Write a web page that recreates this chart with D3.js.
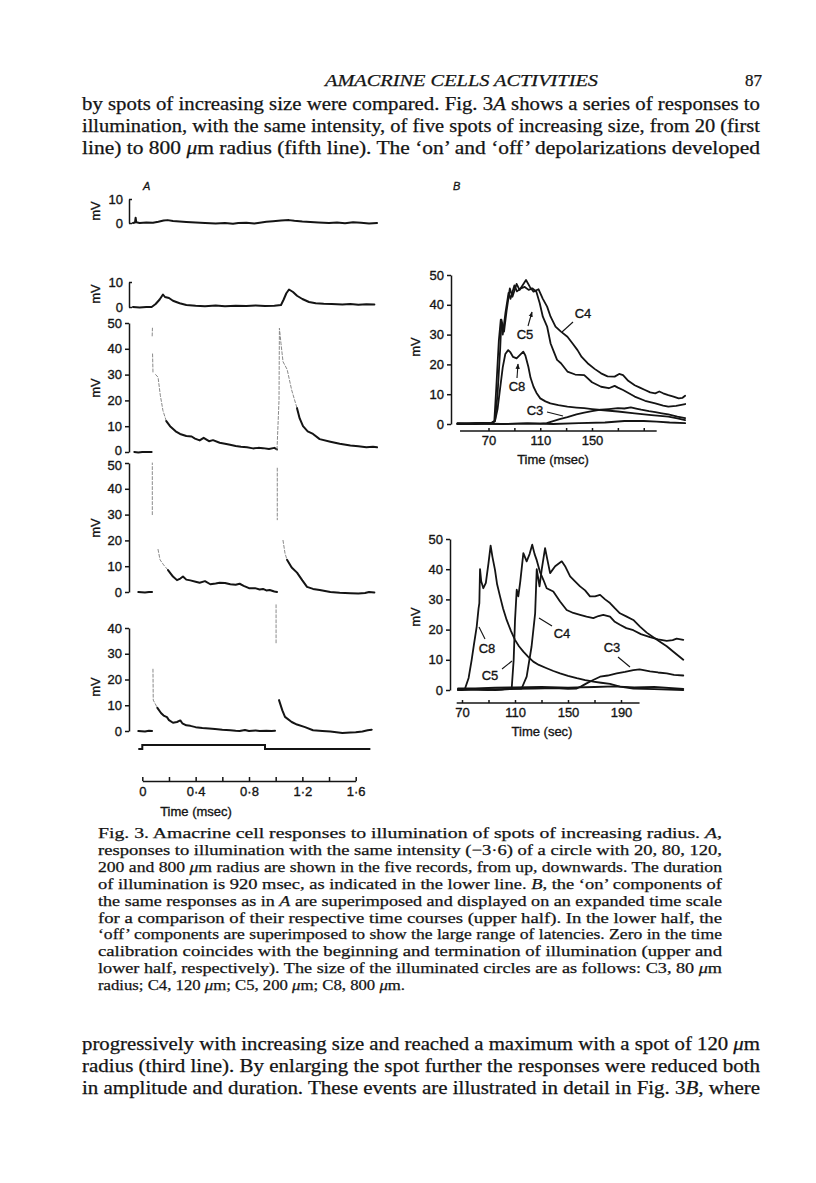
<!DOCTYPE html>
<html><head><meta charset="utf-8">
<script src="https://cdn.jsdelivr.net/npm/d3@7"></script>
<style>body{margin:0;background:#fff}svg{display:block}</style>
</head><body>
<svg id="c" width="816" height="1183"></svg>
<script>
// ---------------- DATA ----------------
// Panel A: time (s), potential (mV); 3rd value: 1 = faint fast segment, 2 = invisible segment
const traceA20 = [[-0.07,0],[-0.055,0.2],[-0.05,2.2],[-0.045,0.3],[-0.02,0],[0.03,0.2],[0.08,0.1],[0.12,0.5],[0.16,1],[0.19,1.2],[0.23,0.8],[0.28,0.6],[0.33,0.4],[0.4,0.2],[0.47,0],[0.55,-0.2],[0.62,0],[0.68,-0.3],[0.72,0],[0.78,0.1],[0.84,-0.2],[0.88,0.1],[0.93,0.5],[0.98,0.7],[1.04,1],[1.1,1.2],[1.14,0.9],[1.2,0.6],[1.26,0.4],[1.32,0.2],[1.4,0],[1.46,0.2],[1.52,-0.1],[1.58,0.3],[1.64,0.1],[1.7,-0.2],[1.76,0]];
const traceA80 = [[-0.07,0],[-0.02,-0.2],[0.03,0],[0.07,0],[0.1,1.2],[0.13,3],[0.155,5],[0.17,4],[0.2,3.6],[0.23,2.5],[0.28,1.5],[0.33,0.8],[0.4,0.5],[0.47,0.3],[0.55,0.6],[0.62,0.3],[0.7,0.5],[0.78,0.4],[0.85,0.6],[0.92,0.4],[0.99,0.5],[1.04,0.8],[1.06,3],[1.08,5.5],[1.1,7],[1.13,6],[1.16,4.5],[1.2,3.2],[1.25,2],[1.3,1.5],[1.36,1.3],[1.42,1.2],[1.5,1],[1.56,1.2],[1.62,0.9],[1.68,1.1],[1.74,1]];
const traceA120 = [[-0.06,0],[-0.03,-0.2],[0,0],[0.05,0],[0.07,0],[0.074,45,2],[0.076,48,1],[0.077,38,2],[0.08,31,1],[0.1,30,2],[0.118,29,1],[0.135,22,1],[0.155,16,1],[0.18,12,1],[0.208,10],[0.25,8],[0.283,7],[0.33,6.2],[0.37,6],[0.395,5.2],[0.43,4.5],[0.46,5.5],[0.5,4.2],[0.53,4.6],[0.58,3.6],[0.62,3.2],[0.658,2.8],[0.7,2.3],[0.74,2],[0.785,1.8],[0.83,1.4],[0.87,1.6],[0.905,1.5],[0.95,1.2],[0.99,1.6],[1.01,1],[1.025,20,1],[1.028,48,1],[1.04,42,1],[1.055,35,1],[1.086,32,1],[1.12,24,1],[1.16,17,1],[1.18,13],[1.205,10],[1.24,8],[1.28,7],[1.33,5],[1.41,4],[1.48,3.2],[1.56,2.5],[1.62,2.2],[1.68,1.8],[1.73,2],[1.76,1.8]];
const traceA200 = [[-0.03,0],[0.02,-0.2],[0.05,0],[0.073,0],[0.075,30,2],[0.075,50,1],[0.118,16.5,2],[0.133,12.5,1],[0.16,10.5,1],[0.193,8.5,1],[0.23,6],[0.26,4.6],[0.285,5.2],[0.305,6],[0.33,4.8],[0.36,4.5],[0.4,4],[0.43,3.6],[0.47,4.2],[0.51,3],[0.55,3.3],[0.58,3.6],[0.62,3.5],[0.66,3],[0.7,2.8],[0.73,3.2],[0.76,2.4],[0.8,1.5],[0.845,1.5],[0.88,1],[0.905,1.2],[0.93,0.6],[0.955,0.8],[0.99,0.2],[1.01,0],[1.012,48,2],[1.012,28,1],[1.055,20,2],[1.07,15,1],[1.085,12.5,1],[1.12,9.5],[1.16,7.5],[1.2,4.5],[1.235,2],[1.28,1.2],[1.33,0.8],[1.41,0],[1.48,-0.3],[1.56,-0.5],[1.62,-0.6],[1.67,-0.4],[1.7,0],[1.74,-0.2]];
const traceA800 = [[-0.03,0],[0.02,-0.2],[0.05,0.1],[0.073,0],[0.08,24,2],[0.082,12,1],[0.113,9,1],[0.14,7],[0.16,6],[0.185,5.4],[0.2,4.2],[0.23,3.2],[0.26,3.5],[0.285,4.1],[0.3,3],[0.33,2.2],[0.36,2],[0.4,1.5],[0.45,1.2],[0.5,1],[0.545,0.8],[0.6,0.5],[0.66,0.3],[0.7,0.1],[0.73,0],[0.77,0.4],[0.8,0],[0.85,0.2],[0.88,0],[0.93,0.1],[0.97,0],[0.995,0.1],[1.003,49,2],[1.003,34,1],[1.025,12,2],[1.05,8],[1.07,5.5],[1.12,3.5],[1.16,2.5],[1.22,1.5],[1.28,0.3],[1.35,0],[1.41,-0.2],[1.5,-0.8],[1.56,-0.6],[1.6,-0.5],[1.65,-0.2],[1.69,0.3],[1.72,0.5]];
const stimulusA = [[-0.03,0],[0,0],[0,1],[0.92,1],[0.92,0],[1.71,0]];
const ticksA10 = [0,10];
const ticksA50 = [0,10,20,30,40,50];
const ticksA40 = [0,10,20,30,40];
const timeTicksA = [0,0.2,0.4,0.6,0.8,1.0,1.2,1.4,1.6];
const timeLabelsA = {"0":"0","0.4":"0·4","0.8":"0·8","1.2":"1·2","1.6":"1·6"};

// Panel B upper: 'on' components, time (msec), mV
const onC4 = [[46,0.3],[55,0.1],[65,0.4],[72,0.2],[75,1],[77,10],[79,25],[80,35],[82,31],[84,38],[86.5,45.5],[88.5,42.7],[91.7,47],[94,45],[99,48.3],[102,46],[104.8,44.4],[108.7,45.2],[112,42],[115.3,39.4],[118,36],[121.8,32.7],[126,31],[131,29.3],[135,27],[138.8,24.8],[142,22.5],[146.6,20.4],[152,18.5],[157,17],[162,16],[167.5,15.9],[171,16.8],[174,16.4],[178,14.5],[183,13],[187,12.2],[191,11.4],[195,10.6],[198.9,10.3],[202,10.9],[205,10.3],[209,9.7],[213,9.2],[217,8.6],[220,8.8],[222,9.5]];
const onC5 = [[46,0],[60,0.3],[72,0.3],[74.5,1],[76,12],[78,28],[79.5,35],[81,30],[83,37],[85.5,44],[87,42],[90,46.5],[92,44.5],[95,45.5],[98,46],[101,45],[104,45.5],[107,44.4],[109.6,40.5],[112,36],[115.3,32.7],[118,27],[120,24.8],[123,21.5],[126,20.4],[131,17.6],[137,16.6],[144,16.4],[150,14],[157,12.5],[163,12],[167.5,12.8],[170,12.2],[174,11.4],[183,9.2],[191,7.8],[198.9,6.9],[205,6.2],[209,5.8],[215,6.1],[222,6.7]];
const onC8 = [[46,0.2],[60,0],[73,0.3],[75,1],[77,5],[79,12],[81,19],[83,23.5],[85.2,24.8],[87,24],[89,22.5],[91.7,22],[94,23],[96.9,24.3],[98.5,23],[100.8,19.2],[102.5,15.5],[104.8,12.5],[107,10.5],[110,8.6],[114,7.6],[117.8,6.9],[124,6.3],[131,5.8],[138,5.5],[144,5.3],[150,5],[157,4.7],[170,4.2],[183,3.6],[196,3],[209,2.5],[216,1.9],[222,1.3]];
const onC3 = [[46,0],[60,0.2],[80,0],[100,0.2],[110,0.1],[115,0.3],[120,1],[125,1.6],[131,2.3],[138,3.2],[144,3.8],[150,4.3],[157,4.8],[163,5],[170,5.3],[175,5.2],[180,5.6],[185,5.1],[188,4.8],[194,4.3],[199,4],[204,3.6],[209,3.2],[216,2.5],[222,2]];
const onBase = [[46,0],[60,0.1],[80,0],[100,0.2],[120,0],[140,0.3],[160,0.5],[175,1],[190,1],[200,0.8],[210,0.5],[222,0.3]];

// Panel B lower: 'off' components, time (sec as labelled), mV
const offC8 = [[67,0.3],[70,0],[72.3,0.5],[75,4],[77.3,10],[79,15],[81.1,21],[82.5,27],[83.1,28.8],[83.6,40],[84.5,36],[86.1,33.7],[88,35.5],[90,42],[91.6,47.8],[93,44],[94.9,39.8],[96.5,35],[98.7,31],[101,27],[103.7,23.2],[107,19.5],[110,16.6],[113,14.5],[116.3,12.7],[120,11],[123.8,9.4],[128,8.3],[133.9,7.2],[139,6.3],[144,5.5],[150,4.7],[156.6,3.9],[163,3.3],[169.1,2.8],[175,2.4],[181.7,2],[189.2,1.1],[199.3,0.5],[215,0.3],[237,0]];
const offC5 = [[67,0],[85,0.4],[100,0.2],[107.5,0.5],[109,10],[110,23],[111.3,33.2],[112.5,31],[114,36],[116.3,45.3],[118.8,42.6],[121,45],[123,48.1],[124.8,45],[126.4,43],[128.9,39],[131.4,36.5],[133.9,33.7],[138.9,32.6],[144,29.3],[149,26.5],[154,25.5],[159.1,24.9],[164,24.3],[169.1,23.8],[173,24.5],[176.6,24.9],[181.7,24.3],[185,22.7],[189.2,21.6],[194,20.5],[199.3,19.8],[205,18.5],[211.9,17.5],[218,16.8],[224.5,16.3],[229,16.5],[232,17],[237,16.6]];
const offC4 = [[67,0.2],[90,0],[105,0.4],[115,0.5],[118.8,4.4],[122.5,14.4],[125.2,25.4],[126.4,40],[128.5,34.3],[130.2,40],[132.7,47],[134.5,43],[136.5,38.7],[140.3,41],[145.3,42.6],[147.8,41],[151.6,37.6],[155.3,36],[159.1,34.3],[162.9,33],[166.6,31],[170.4,31],[174.2,31.5],[178,30],[181.7,28.8],[185.5,27],[189.2,25.4],[194.3,24.3],[199.3,23.2],[204.3,21],[209.4,19],[214.4,17.5],[219.4,16],[224.5,14.5],[230,12.5],[237,10]];
const offC3 = [[67,0],[80,0.3],[95,0],[110,0.4],[125,0.5],[140,0.6],[150,0.4],[156.6,0.5],[160,1.2],[164,2.2],[169,3.3],[174.2,4.4],[180,4.8],[186.8,5.5],[193,6],[199.3,6.6],[204,6.8],[208,6.5],[211.9,6.2],[218,5.8],[224.5,5.5],[230,5],[237,4.8]];
const offBase = [[67,0.5],[80,0.5],[95,0.8],[110,0.9],[130,1],[150,0.8],[170,1],[185,1.2],[200,0.9],[215,1],[237,0.4]];
const ticksB = [0,10,20,30,40,50];
const timeTicksB = [70,90,110,130,150,170,190];
const timeLabelsBUpper = [70,110,150];
const timeLabelsBLower = [70,110,150,190];

// Page text
const headerText = "AMACRINE CELLS ACTIVITIES";
const pageNumber = "87";
const topParagraph = [
 "by spots of increasing size were compared. Fig. 3*A* shows a series of responses to",
 "illumination, with the same intensity, of five spots of increasing size, from 20 (first",
 "line) to 800 *μ*m radius (fifth line). The ‘on’ and ‘off’ depolarizations developed"];
const captionLines = [
 "Fig. 3. Amacrine cell responses to illumination of spots of increasing radius. *A*,",
 "responses to illumination with the same intensity (−3·6) of a circle with 20, 80, 120,",
 "200 and 800 *μ*m radius are shown in the five records, from up, downwards. The duration",
 "of illumination is 920 msec, as indicated in the lower line. *B*, the ‘on’ components of",
 "the same responses as in *A* are superimposed and displayed on an expanded time scale",
 "for a comparison of their respective time courses (upper half). In the lower half, the",
 "‘off’ components are superimposed to show the large range of latencies. Zero in the time",
 "calibration coincides with the beginning and termination of illumination (upper and",
 "lower half, respectively). The size of the illuminated circles are as follows: C3, 80 *μ*m",
 "radius; C4, 120 *μ*m; C5, 200 *μ*m; C8, 800 *μ*m."];
const bottomParagraph = [
 "progressively with increasing size and reached a maximum with a spot of 120 *μ*m",
 "radius (third line). By enlarging the spot further the responses were reduced both",
 "in amplitude and duration. These events are illustrated in detail in Fig. 3*B*, where"];

// ---------------- DRAWING ----------------
const SERIF = "'Liberation Serif','DejaVu Serif',serif";
const SANS = "'Liberation Sans',Arial,Helvetica,sans-serif";
const INK = "#141414";
const FS = 13;
const svg = d3.select('#c');

function para(lines, x0, x1, y0, dy, size, lastWidth) {
  lines.forEach((ln, i) => {
    const t = svg.append('text').attr('x', x0).attr('y', y0 + i * dy)
      .attr('font-family', SERIF).attr('font-size', size).attr('fill', INK)
      .attr('stroke', INK).attr('stroke-width', 0.25);
    ln.split('*').forEach((s, k) => { if (s) t.append('tspan').attr('font-style', k % 2 ? 'italic' : null).text(s); });
    const w = i < lines.length - 1 ? x1 - x0 : lastWidth;
    t.attr('textLength', w).attr('lengthAdjust', 'spacingAndGlyphs');
  });
}

svg.append('text').attr('x', 325).attr('y', 86).attr('font-family', SERIF).attr('font-style', 'italic')
  .attr('font-size', 17).attr('fill', INK).attr('stroke', INK).attr('stroke-width', 0.25)
  .attr('textLength', 273).attr('lengthAdjust', 'spacingAndGlyphs').text(headerText);
svg.append('text').attr('x', 762).attr('y', 86).attr('text-anchor', 'end').attr('font-family', SERIF)
  .attr('font-size', 17).attr('fill', INK).attr('stroke', INK).attr('stroke-width', 0.25).text(pageNumber);
para(topParagraph, 82, 760, 110, 22, 18, 678);
para(captionLines, 98, 722, 838, 16.9, 15, 307);
para(bottomParagraph, 82, 760, 1050, 22, 18, 678);

function drawTrace(g, pts, xs, ys, w) {
  const runs = []; let cur = null;
  for (let i = 1; i < pts.length; i++) {
    const f = pts[i][2] || 0;
    if (!cur || cur.f !== f) { cur = { f, pts: [pts[i - 1]] }; runs.push(cur); }
    cur.pts.push(pts[i]);
  }
  const line = d3.line().x(d => xs(d[0])).y(d => ys(d[1]));
  runs.filter(r => r.f !== 2).forEach(r => {
    g.append('path').attr('d', line(r.pts)).attr('fill', 'none')
      .attr('stroke', r.f === 1 ? '#8a8a8a' : INK)
      .attr('stroke-width', r.f === 1 ? 1 : w)
      .attr('stroke-dasharray', r.f === 1 ? '3,2' : null)
      .attr('stroke-linejoin', 'round').attr('stroke-linecap', 'round');
  });
}
function sansText(sel) {
  return sel.attr('font-family', SANS).attr('font-size', FS).attr('fill', INK)
    .attr('stroke', INK).attr('stroke-width', 0.35);
}
function styleAxis(g) {
  g.attr('font-family', SANS).attr('font-size', FS);
  g.selectAll('text').attr('fill', INK).attr('stroke', INK).attr('stroke-width', 0.35);
  g.selectAll('line,path').attr('stroke', INK).attr('stroke-width', 1.5);
}
function mvLabel(x, y) {
  sansText(svg.append('text').attr('transform', `translate(${x},${y}) rotate(-90)`).attr('text-anchor', 'middle')
    .attr('dy', '0.35em')).text('mV');
}

// Panel A
const gA = svg.append('g');
const xA = d3.scaleLinear().domain([0, 1.6]).range([142.3, 355.7]);
svg.append('text').attr('x', 143).attr('y', 190).attr('font-family', SANS).attr('font-style', 'italic')
  .attr('font-size', 11).attr('fill', INK).attr('stroke', INK).attr('stroke-width', 0.3).text('A');
svg.append('text').attr('x', 453).attr('y', 190).attr('font-family', SANS).attr('font-style', 'italic')
  .attr('font-size', 11).attr('fill', INK).attr('stroke', INK).attr('stroke-width', 0.3).text('B');

const rowsA = [
  { data: traceA20, y0: 223, y1: 199, top: 10, ticks: ticksA10, bracket: true, mv: 211 },
  { data: traceA80, y0: 307, y1: 282, top: 10, ticks: ticksA10, bracket: true, mv: 294 },
  { data: traceA120, y0: 452, y1: 323, top: 50, ticks: ticksA50, bracket: false, mv: 388, lowShift: -2 },
  { data: traceA200, y0: 592, y1: 463, top: 50, ticks: ticksA50, bracket: false, mv: 528, topShift: 2 },
  { data: traceA800, y0: 731, y1: 628, top: 40, ticks: ticksA40, bracket: false, mv: 687 }
];
rowsA.forEach(r => {
  const ys = d3.scaleLinear().domain([0, r.top]).range([r.y0, r.y1]);
  const ax = d3.axisLeft(ys).tickValues(r.ticks).tickFormat(d3.format('d'))
    .tickSizeInner(r.bracket ? -3 : 4).tickSizeOuter(0).tickPadding(r.bracket ? 6 : 3);
  const g = gA.append('g').attr('transform', 'translate(129,0)').call(ax);
  styleAxis(g);
  g.selectAll('.tick text').attr('y', d => d === 0 ? (r.lowShift || 0) : d === r.top ? (r.topShift || 0) : 0);
  mvLabel(95, r.mv);
  drawTrace(gA, r.data, xA, ys, 2);
});
// stimulus marker
const yStim = d3.scaleLinear().domain([0, 1]).range([749, 745]);
gA.append('path').attr('d', d3.line().x(d => xA(d[0])).y(d => yStim(d[1]))(stimulusA))
  .attr('fill', 'none').attr('stroke', INK).attr('stroke-width', 2);
// time axis A
const axA = d3.axisBottom(xA).tickValues(timeTicksA)
  .tickFormat(d => timeLabelsA[String(Math.round(d * 10) / 10)] || '')
  .tickSizeInner(-4).tickSizeOuter(0).tickPadding(6);
const gAx = gA.append('g').attr('transform', 'translate(0,781)').call(axA);
styleAxis(gAx);
sansText(svg.append('text').attr('x', 196).attr('y', 816).attr('text-anchor', 'middle')).text('Time (msec)');

// Panel B
svg.append('defs').append('marker').attr('id', 'arr').attr('viewBox', '0 0 10 10').attr('refX', 9).attr('refY', 5)
  .attr('markerWidth', 5).attr('markerHeight', 5).attr('orient', 'auto')
  .append('path').attr('d', 'M0,1 L10,5 L0,9 Z').attr('fill', INK);

function panelB(cfg) {
  const g = svg.append('g');
  const xs = d3.scaleLinear().domain([70, cfg.xRef]).range([cfg.x70, cfg.xRefPx]);
  const ys = d3.scaleLinear().domain([0, 50]).range([cfg.y0, cfg.y50]);
  const ay = d3.axisLeft(ys).tickValues(ticksB).tickSizeInner(4).tickSizeOuter(0).tickPadding(3);
  styleAxis(g.append('g').attr('transform', `translate(${cfg.ax},0)`).call(ay));
  mvLabel(415, cfg.mv);
  const ax = d3.axisBottom(xs).tickValues(timeTicksB).tickSizeInner(-3).tickSizeOuter(0).tickPadding(5)
    .tickFormat(d => cfg.labels.includes(d) ? d : '');
  const gx = g.append('g').attr('transform', `translate(0,${cfg.axY})`).call(ax);
  gx.select('.domain').attr('d', `M${xs(cfg.tMin)},0H${xs(cfg.tMax)}`);
  styleAxis(gx);
  sansText(svg.append('text').attr('x', cfg.titleX).attr('y', cfg.titleY).attr('text-anchor', 'middle')).text(cfg.title);
  cfg.traces.forEach(tr => drawTrace(g, tr, xs, ys, 1.8));
  cfg.notes.forEach(n => {
    sansText(g.append('text').attr('x', n[1]).attr('y', n[2]).attr('text-anchor', 'middle').attr('dy', '0.35em')).text(n[0]);
    const l = g.append('line').attr('x1', n[3]).attr('y1', n[4]).attr('x2', n[5]).attr('y2', n[6])
      .attr('stroke', INK).attr('stroke-width', 1.1);
    if (n[7]) l.attr('marker-end', 'url(#arr)');
  });
}
panelB({
  x70: 488.5, xRef: 150, xRefPx: 592, y0: 424, y50: 275, ax: 451, mv: 347, axY: 431,
  tMin: 48, tMax: 200, labels: timeLabelsBUpper, title: 'Time (msec)', titleX: 553, titleY: 464,
  traces: [onBase, onC3, onC8, onC5, onC4],
  notes: [['C4', 583, 313, 573, 322, 562, 332, false], ['C5', 525, 334, 528, 326, 532, 312, true],
          ['C8', 517, 386, 517, 378, 518, 364, true], ['C3', 535, 410, 547, 412, 563, 416, false]]
});
panelB({
  x70: 462, xRef: 190, xRefPx: 621, y0: 690, y50: 539, ax: 450, mv: 617, axY: 703,
  tMin: 66, tMax: 204, labels: timeLabelsBLower, title: 'Time (sec)', titleX: 542, titleY: 736,
  traces: [offBase, offC3, offC8, offC5, offC4],
  notes: [['C8', 487, 648, 485, 639, 479, 627, false], ['C5', 490, 675, 502, 669, 512, 661, false],
          ['C4', 562, 633, 552, 626, 539, 618, false], ['C3', 612, 647, 618, 657, 630, 667, false]]
});
</script>
</body></html>
